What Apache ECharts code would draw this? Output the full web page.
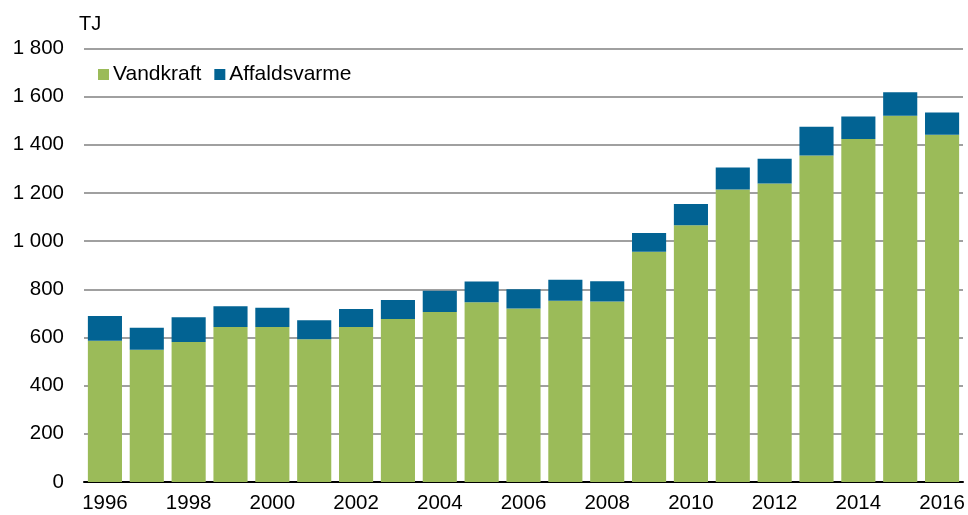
<!DOCTYPE html>
<html>
<head>
<meta charset="utf-8">
<script src="https://cdn.jsdelivr.net/npm/echarts@6/dist/echarts.min.js"></script>
<style>
html,body{margin:0;padding:0;background:#fff;}
#c{width:968px;height:515px;}
</style>
</head>
<body>
<div id="c"></div>
<script>
const years = ['1996','1997','1998','1999','2000','2001','2002','2003','2004','2005','2006','2007','2008','2009','2010','2011','2012','2013','2014','2015','2016'];
const vandkraft = [586,549,581,644,644,593,644,677,706,746,720,753,749,956,1066,1215,1239,1356,1424,1521,1442];
const affaldsvarme = [103,91,103,86,80,79,74,79,88,87,80,87,85,78,88,91,103,119,94,97,92];
const yTicks = [0,200,400,600,800,1000,1200,1400,1600,1800];

const FONT = '"Liberation Sans", Arial, sans-serif';
const chart = echarts.init(document.getElementById('c'), null, {renderer:'canvas'});
chart.setOption({
  animation:false,
  backgroundColor:'#fff',
  textStyle:{fontFamily:FONT},
  graphic:[{type:'text', left:79, top:14, style:{text:'TJ', font:'20px '+FONT, fill:'#000'}}],
  legend:{
    left:93, top:59, itemWidth:11, itemHeight:11, itemGap:13,
    textStyle:{fontSize:21, color:'#000', fontFamily:FONT, padding:[0,0,0,-1]},
    data:[{name:'Vandkraft', icon:'rect'},{name:'Affaldsvarme', icon:'rect'}]
  },
  grid:{left:84, right:5, top:48.5, bottom:33, containLabel:false},
  xAxis:{
    type:'category', data:years,
    axisLine:{lineStyle:{color:'#000', width:2}},
    axisTick:{show:false},
    axisLabel:{interval:1, color:'#000', fontSize:20.5, margin:11, fontFamily:FONT}
  },
  yAxis:{
    type:'value', min:yTicks[0], max:yTicks[yTicks.length-1], interval:200,
    axisLine:{show:false}, axisTick:{show:false},
    splitLine:{lineStyle:{color:'#a0a0a0', width:2}},
    axisLabel:{color:'#000', fontSize:20.5, margin:20, fontFamily:FONT,
      formatter:v=>String(v).replace(/\B(?=(\d{3})+(?!\d))/g,' ')}
  },
  series:[
    {name:'Vandkraft', type:'bar', stack:'a', data:vandkraft, barCategoryGap:'18.5%',
     itemStyle:{color:'#9bbb59'}},
    {name:'Affaldsvarme', type:'bar', stack:'a', data:affaldsvarme,
     itemStyle:{color:'#026393'}}
  ]
});
</script>
</body>
</html>
